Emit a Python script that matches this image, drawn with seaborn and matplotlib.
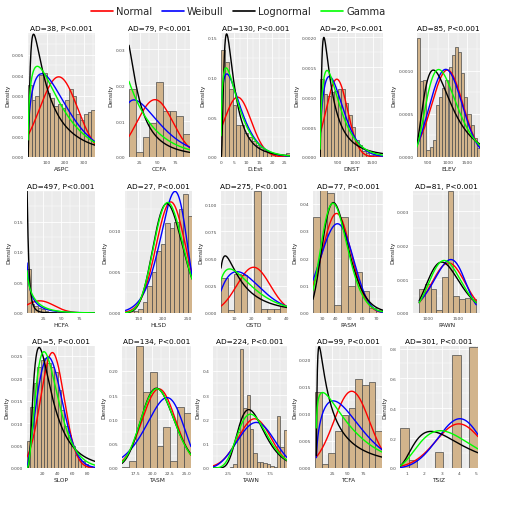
import numpy as np
import pandas as pd
import matplotlib
matplotlib.use("Agg")
import matplotlib.pyplot as plt
from matplotlib.lines import Line2D
from matplotlib.ticker import AutoMinorLocator
import seaborn as sns
from math import lgamma

# ---------------- data ----------------
# each panel: histogram (bin start, bin width), density heights, and four fitted distributions
# normal=(mean, sd), weibull=(shape, scale), lognormal=(meanlog, sdlog), gamma=(shape, rate)
aspc_ad = 38
aspc_bins = (0, 20)
aspc_density = [0.0035, 0.0028, 0.0030, 0.0040, 0.0041, 0.0031, 0.0029, 0.0025, 0.0026,
                0.0024, 0.0028, 0.0033, 0.0030, 0.0021, 0.0018, 0.0021, 0.0022, 0.0023]
aspc_fits = [(165, 102), (1.4, 181), (4.72, 1.15), (1.435, 0.0087)]

ccfa_ad = 79
ccfa_bins = (10.2, 9.36)
ccfa_density = [0.019, 0.0015, 0.0055, 0.0095, 0.021, 0.0128, 0.0128, 0.0113, 0.0063]
ccfa_fits = [(46, 25), (1.35, 46.2), (3.0, 1.0), (1.0, 0.028)]

dest_ad = 130
dest_bins = (0, 1.5)
dest_density = [0.135, 0.12, 0.085, 0.065, 0.040, 0.040, 0.030, 0.025, 0.020, 0.015,
                0.012, 0.008, 0.006, 0.004, 0.003, 0.002, 0.002, 0.005]
dest_fits = [(6.5, 5.3), (1.3, 7.04), (1.477, 0.83), (1.444, 0.222)]

dnst_ad = 20
dnst_bins = (0, 100)
dnst_density = [0.0013, 0.00105, 0.00102, 0.00108, 0.0011, 0.00113, 0.00113, 0.0009, 0.0007,
                0.0005, 0.00028, 0.0002, 0.0001, 0.00006, 0.00004, 0.00003, 0.00002, 0.00002]
dnst_fits = [(480, 307), (1.5, 554), (5.80, 1.05), (1.667, 0.00333)]

elev_ad = 85
elev_bins = (220, 80)
elev_density = [0.00138, 0.00088, 0.0009, 0.00008, 0.00012, 0.0002, 0.0006, 0.0007, 0.0008,
                0.0009, 0.00105, 0.00118, 0.00128, 0.00122, 0.00098, 0.0007, 0.0005,
                0.00037, 0.00022, 0.0001]
elev_fits = [(991, 395), (2.85, 1105), (6.743, 0.539), (5.0, 0.0052)]

hcfa_ad = 497
hcfa_bins = (2, 5)
hcfa_density = [0.072, 0.014, 0.012, 0.009, 0.007, 0.004, 0.002, 0.001, 0.0005, 0.0003,
                0.0002, 0.0002, 0.0001, 0.0001, 0.0001, 0.0001, 0.0001, 0.0001, 0.0001]
hcfa_fits = [(20, 20), (0.7, 10), (1.0, 0.9), (0.7, 0.05)]

hlsd_ad = 27
hlsd_bins = (123, 9.07)
hlsd_density = [0.0001, 0.0002, 0.0003, 0.0005, 0.0013, 0.0032, 0.0050, 0.0075, 0.0083,
                0.0108, 0.0103, 0.0110, 0.0125, 0.0143, 0.0117]
hlsd_fits = [(216, 29.8), (9.0, 227.5), (5.358, 0.144), (50.2, 0.2346)]

ostd_ad = 275
ostd_bins = (2.5, 3.75)
ostd_density = [0.032, 0.003, 0.036, 0.035, 0.0, 0.112, 0.004, 0.004, 0.004, 0.006]
ostd_fits = [(21, 9.5), (1.65, 20.3), (2.53, 0.97), (1.7, 0.095)]

pasm_ad = 77
pasm_bins = (22.7, 5.26)
pasm_density = [0.035, 0.045, 0.044, 0.003, 0.035, 0.010, 0.015, 0.008, 0.002, 0.001]
pasm_fits = [(40.4, 10.96), (3.8, 44.5), (3.701, 0.252), (15.5, 0.385)]

pawn_ad = 81
pawn_bins = (860, 93)
pawn_density = [0.0007, 0.00085, 0.0007, 0.0001, 0.00105, 0.0036, 0.0005, 0.0004, 0.00045,
                0.0004]
pawn_fits = [(1339, 270), (6.0, 1420), (7.158, 0.2115), (25.5, 0.0193)]

slop_ad = 5
slop_bins = (0, 4.5)
slop_density = [0.006, 0.0135, 0.019, 0.0225, 0.024, 0.0245, 0.0235, 0.0225, 0.0215, 0.0175,
                0.013, 0.0093, 0.0074, 0.005, 0.003, 0.002, 0.0015, 0.001, 0.0005, 0.0003]
slop_fits = [(33.6, 15.5), (2.2, 37), (3.287, 0.717), (3.3, 0.1022)]

tasm_ad = 134
tasm_bins = (15.6, 1.01)
tasm_density = [0.002, 0.015, 0.250, 0.157, 0.198, 0.045, 0.085, 0.015, 0.125, 0.113]
tasm_fits = [(21.0, 2.45), (8.8, 22.5), (3.041, 0.117), (72.8, 3.47)]

tawn_ad = 224
tawn_bins = (0.75, 0.4)
tawn_density = [0.0, 0.0, 0.0, 0.0, 0.002, 0.005, 0.015, 0.15, 0.49, 0.245, 0.30, 0.16,
                0.06, 0.025, 0.025, 0.02, 0.015, 0.01, 0.005, 0.215, 0.085, 0.155]
tawn_fits = [(5.7, 1.97), (3.2, 6.63), (1.709, 0.316), (9.5, 1.635)]

tcfa_ad = 99
tcfa_bins = (-2, 10.6)
tcfa_density = [0.014, 0.0008, 0.0028, 0.0068, 0.0098, 0.011, 0.0163, 0.0153, 0.0158, 0.0068]
tcfa_fits = [(56, 28.3), (1.45, 60), (3.549, 1.43), (1.22, 0.022)]

tsiz_ad = 301
tsiz_bins = (0.57, 0.505)
tsiz_density = [0.265, 0.055, 0.0, 0.0, 0.11, 0.0, 0.76, 0.0, 0.81]
tsiz_fits = [(4.0, 1.35), (3.8, 4.4), (1.2, 0.58), (4.5, 1.2)]

# ---------------- distribution densities ----------------
def pdf_normal(x, m, s):
    return np.exp(-0.5 * ((x - m) / s) ** 2) / (s * np.sqrt(2 * np.pi))

def pdf_weibull(x, k, lam):
    return (k / lam) * (x / lam) ** (k - 1) * np.exp(-(x / lam) ** k)

def pdf_lognormal(x, mu, s):
    return np.exp(-0.5 * ((np.log(x) - mu) / s) ** 2) / (x * s * np.sqrt(2 * np.pi))

def pdf_gamma(x, a, b):
    return np.exp(a * np.log(b) + (a - 1) * np.log(x) - b * x - lgamma(a))

dists = [("Normal", pdf_normal, "#FF0000"),
         ("Weibull", pdf_weibull, "#0000FF"),
         ("Lognormal", pdf_lognormal, "#000000"),
         ("Gamma", pdf_gamma, "#00FF00")]

panels = [
    ("ASPC", aspc_ad, aspc_bins, aspc_density, aspc_fits),
    ("CCFA", ccfa_ad, ccfa_bins, ccfa_density, ccfa_fits),
    ("D.Est", dest_ad, dest_bins, dest_density, dest_fits),
    ("DNST", dnst_ad, dnst_bins, dnst_density, dnst_fits),
    ("ELEV", elev_ad, elev_bins, elev_density, elev_fits),
    ("HCFA", hcfa_ad, hcfa_bins, hcfa_density, hcfa_fits),
    ("HLSD", hlsd_ad, hlsd_bins, hlsd_density, hlsd_fits),
    ("OSTD", ostd_ad, ostd_bins, ostd_density, ostd_fits),
    ("PASM", pasm_ad, pasm_bins, pasm_density, pasm_fits),
    ("PAWN", pawn_ad, pawn_bins, pawn_density, pawn_fits),
    ("SLOP", slop_ad, slop_bins, slop_density, slop_fits),
    ("TASM", tasm_ad, tasm_bins, tasm_density, tasm_fits),
    ("TAWN", tawn_ad, tawn_bins, tawn_density, tawn_fits),
    ("TCFA", tcfa_ad, tcfa_bins, tcfa_density, tcfa_fits),
    ("TSIZ", tsiz_ad, tsiz_bins, tsiz_density, tsiz_fits),
]

# ---------------- layout / styling ----------------
W, H = 525, 506
# panel boxes in pixels: (left, right, top, bottom)
boxes = [
    (28, 95, 34, 158), (129, 190, 34, 158), (221, 290, 34, 158), (320, 383, 34, 158), (417, 480, 34, 158),
    (27, 95, 192, 314), (125, 192, 192, 314), (221, 287, 192, 314), (313, 383, 192, 314), (413, 480, 192, 314),
    (27, 95, 347, 469), (122, 191, 347, 469), (213, 287, 347, 469), (315, 382, 347, 469), (400, 478, 347, 469),
]
xlims = [None, None, None, None, None,
         None, None, None, None, (760, 1853),
         None, None, None, None, None]
ylims = [0.00605, 0.0345, 0.156, 0.00207, 0.00144,
         0.2, 0.0147, 0.112, 0.0446, 0.0036,
         0.0272, 0.251, 0.502, 0.0224, 0.817]
yticks = [np.arange(0, 0.0051, 0.001), np.arange(0, 0.031, 0.01), np.arange(0, 0.151, 0.05),
          np.arange(0, 0.00201, 0.0005), np.arange(0, 0.00101, 0.0005),
          np.arange(0, 0.151, 0.05), np.arange(0, 0.0101, 0.005), np.arange(0, 0.101, 0.025),
          np.arange(0, 0.041, 0.01), np.arange(0, 0.0031, 0.001),
          np.arange(0, 0.0251, 0.005), np.arange(0, 0.201, 0.05), np.arange(0, 0.41, 0.1),
          np.arange(0, 0.0201, 0.005), np.arange(0, 0.81, 0.2)]
yfmt = ["{:.3f}", "{:.2f}", "{:.2f}", "{:.4f}", "{:.4f}",
        "{:.2f}", "{:.3f}", "{:.3f}", "{:.2f}", "{:.3f}",
        "{:.3f}", "{:.2f}", "{:.1f}", "{:.3f}", "{:.1f}"]
xticks = [[100, 200, 300], [25, 50, 75], [0, 5, 10, 15, 20, 25], [500, 1000, 1500], [500, 1000, 1500],
          [25, 50, 75], [150, 200, 250], [10, 20, 30, 40], [30, 40, 50, 60, 70], [1000, 1500],
          [20, 40, 60, 80], [17.5, 20.0, 22.5, 25.0], [2.5, 5.0, 7.5], [25, 50, 75], [1, 2, 3, 4, 5]]
xfmt = ["{:g}"] * 11 + ["{:.1f}", "{:.1f}", "{:g}", "{:g}"]

sns.set_theme(style="darkgrid")
plt.rcParams["font.family"] = ["DejaVu Sans"]

fig = plt.figure(figsize=(W / 100, H / 100), dpi=100)
fig.patch.set_facecolor("white")

for i, (name, ad, (b0, bw), dens, fits) in enumerate(panels):
    l, r, t, b = boxes[i]
    ax = fig.add_axes([l / W, 1 - b / H, (r - l) / W, (b - t) / H])
    ax.set_facecolor("#EBEBEB")
    n = len(dens)
    edges = [b0 + bw * k for k in range(n + 1)]
    centers = [(edges[k] + edges[k + 1]) / 2 for k in range(n)]
    df = pd.DataFrame({"x": centers, "w": dens})
    sns.histplot(data=df, x="x", weights="w", bins=edges, stat="count", ax=ax,
                 color="#D2B48C", edgecolor="#4A4A4A", linewidth=0.5, alpha=1.0, zorder=2)
    c0, c1 = edges[0], edges[-1]
    xs = np.linspace(max(c0, 0.02 * bw), c1, 400)
    for (dname, f, col), p in zip(dists, fits):
        ys = f(xs, *p)
        sns.lineplot(x=xs, y=ys, ax=ax, color=col, linewidth=1.0, zorder=3, legend=False)
    x0, x1 = xlims[i] if xlims[i] else (c0, c1)
    ax.set_xlim(x0, x1)
    ax.set_ylim(0, ylims[i])
    ax.set_xticks(xticks[i])
    ax.set_xticklabels([xfmt[i].format(v) for v in xticks[i]])
    ax.set_yticks(yticks[i])
    ax.set_yticklabels([yfmt[i].format(v) for v in yticks[i]])
    ax.xaxis.set_minor_locator(AutoMinorLocator(2))
    ax.yaxis.set_minor_locator(AutoMinorLocator(2))
    ax.grid(which="major", color="white", linewidth=0.6, zorder=0)
    ax.grid(which="minor", color="white", linewidth=0.3, zorder=0)
    ax.set_axisbelow(True)
    ax.tick_params(which="major", length=1.5, width=0.4, color="#333333",
                   labelsize=3.2, labelcolor="#4D4D4D", pad=1)
    ax.tick_params(which="minor", length=0)
    for s in ax.spines.values():
        s.set_visible(False)
    ax.set_xlabel(name, fontsize=4.2, color="#222222", labelpad=1)
    ax.set_ylabel("Density", fontsize=4.2, color="#222222", labelpad=1.5)
    ax.set_title(f"AD={ad}, P<0.001", fontsize=5.3, color="black", pad=2)

handles = [Line2D([0], [0], color=c, linewidth=1.2) for _, _, c in dists]
fig.legend(handles, [d[0] for d in dists], loc="center", bbox_to_anchor=(238 / W, 1 - 12 / H),
           ncol=4, frameon=False, fontsize=7.2, handlelength=2.2, handletextpad=0.3,
           columnspacing=1.0)

fig.savefig("out.png", dpi=100)
